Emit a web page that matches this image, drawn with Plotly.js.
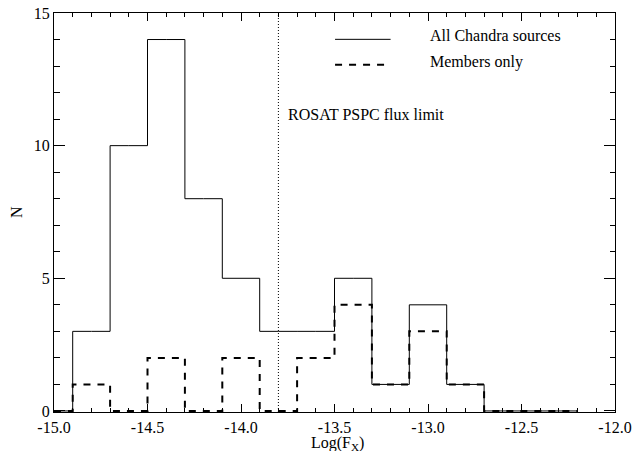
<!DOCTYPE html>
<html>
<head>
<meta charset="utf-8">
<script src="https://cdn.plot.ly/plotly-3.0.1.min.js"></script>
<style>
html,body{margin:0;padding:0;background:#fff;}
#chart{width:634px;height:451px;}
</style>
</head>
<body>
<div id="chart"></div>
<script>
// Bin centres of Log(Fx) histogram (bin width 0.2)
const binCenters = [-15.0, -14.8, -14.6, -14.4, -14.2, -14.0, -13.8, -13.6, -13.4, -13.2, -13.0, -12.8, -12.6, -12.4, -12.2];
const allChandra = [0, 3, 10, 14, 8, 5, 3, 3, 5, 1, 4, 1, 0, 0, 0];
const membersOnly = [0, 1, 0, 2, 0, 2, 0, 2, 4, 1, 3, 1, 0, 0, 0];
const fluxLimit = -13.8;
const seriesNames = ["All Chandra sources", "Members only"];
const xTickVals = [-15.0, -14.5, -14.0, -13.5, -13.0, -12.5, -12.0];
const xTickText = ["-15.0", "-14.5", "-14.0", "-13.5", "-13.0", "-12.5", "-12.0"];
const yTickVals = [0, 5, 10, 15];
const yTickText = ["0", "5", "10", "15"];
const xTitle = "Log(F<sub>X</sub>)";
const yTitle = "N";

const FONT = "'Liberation Serif', 'Times New Roman', serif";

const traces = [
  {
    x: binCenters, y: allChandra, name: seriesNames[0], type: "scatter", mode: "lines",
    line: {shape: "hvh", color: "#000", width: 1}, showlegend: false, hoverinfo: "skip"
  },
  {
    x: binCenters, y: membersOnly, name: seriesNames[1], type: "scatter", mode: "lines",
    line: {shape: "hvh", color: "#000", width: 2, dash: "7px,7px"}, showlegend: false, hoverinfo: "skip"
  }
];

const layout = {
  width: 634, height: 451,
  margin: {l: 54, r: 19, t: 13, b: 39},
  paper_bgcolor: "#fff", plot_bgcolor: "#fff",
  font: {family: FONT, size: 16, color: "#000"},
  showlegend: false,
  xaxis: {
    range: [-15, -12], showgrid: false, zeroline: false,
    showline: true, linecolor: "#000", linewidth: 1, mirror: "allticks",
    ticks: "inside", ticklen: 8, tickwidth: 1, tickcolor: "#000",
    tickvals: xTickVals, ticktext: xTickText, ticklabelstandoff: 1,
    minor: {dtick: 0.1, ticks: "inside", ticklen: 4, tickcolor: "#000", tickwidth: 1, showgrid: false},
    tickfont: {family: FONT, size: 16},
    automargin: false
  },
  yaxis: {
    range: [-0.04, 15], showgrid: false, zeroline: false,
    showline: true, linecolor: "#000", linewidth: 1, mirror: "allticks",
    ticks: "inside", ticklen: 11, tickwidth: 1, tickcolor: "#000",
    tickvals: yTickVals, ticktext: yTickText, ticklabelstandoff: 0,
    minor: {dtick: 1, ticks: "inside", ticklen: 5.5, tickcolor: "#000", tickwidth: 1, showgrid: false},
    tickfont: {family: FONT, size: 16},
    automargin: false
  },
  shapes: [
    {type: "line", xref: "x", yref: "paper", x0: fluxLimit, x1: fluxLimit, y0: 0, y1: 1,
     line: {color: "#000", width: 1, dash: "1px,2px"}},
    {type: "line", xref: "paper", yref: "paper", x0: 0.501, x1: 0.600, y0: 0.934, y1: 0.934,
     line: {color: "#000", width: 1}},
    {type: "line", xref: "paper", yref: "paper", x0: 0.501, x1: 0.600, y0: 0.870, y1: 0.870,
     line: {color: "#000", width: 2, dash: "7px,7px"}}
  ],
  annotations: [
    {xref: "paper", yref: "paper", x: 0.505, y: -0.08, xanchor: "center", yanchor: "middle",
     text: xTitle, showarrow: false, font: {family: FONT, size: 16}},
    {xref: "paper", yref: "paper", x: -0.0677, y: 0.501, xanchor: "center", yanchor: "middle",
     textangle: -90, text: yTitle, showarrow: false, font: {family: FONT, size: 16}},
    {xref: "paper", yref: "paper", x: 0.667, y: 0.944, xanchor: "left", yanchor: "middle",
     text: seriesNames[0], showarrow: false, font: {family: FONT, size: 16}},
    {xref: "paper", yref: "paper", x: 0.667, y: 0.878, xanchor: "left", yanchor: "middle",
     text: seriesNames[1], showarrow: false, font: {family: FONT, size: 16}},
    {xref: "x", yref: "y", x: -13.76, y: 11.17, xanchor: "left", yanchor: "middle",
     text: "ROSAT PSPC flux limit", showarrow: false, font: {family: FONT, size: 16}}
  ]
};

Plotly.newPlot("chart", traces, layout, {staticPlot: true, displayModeBar: false});
</script>
</body>
</html>
